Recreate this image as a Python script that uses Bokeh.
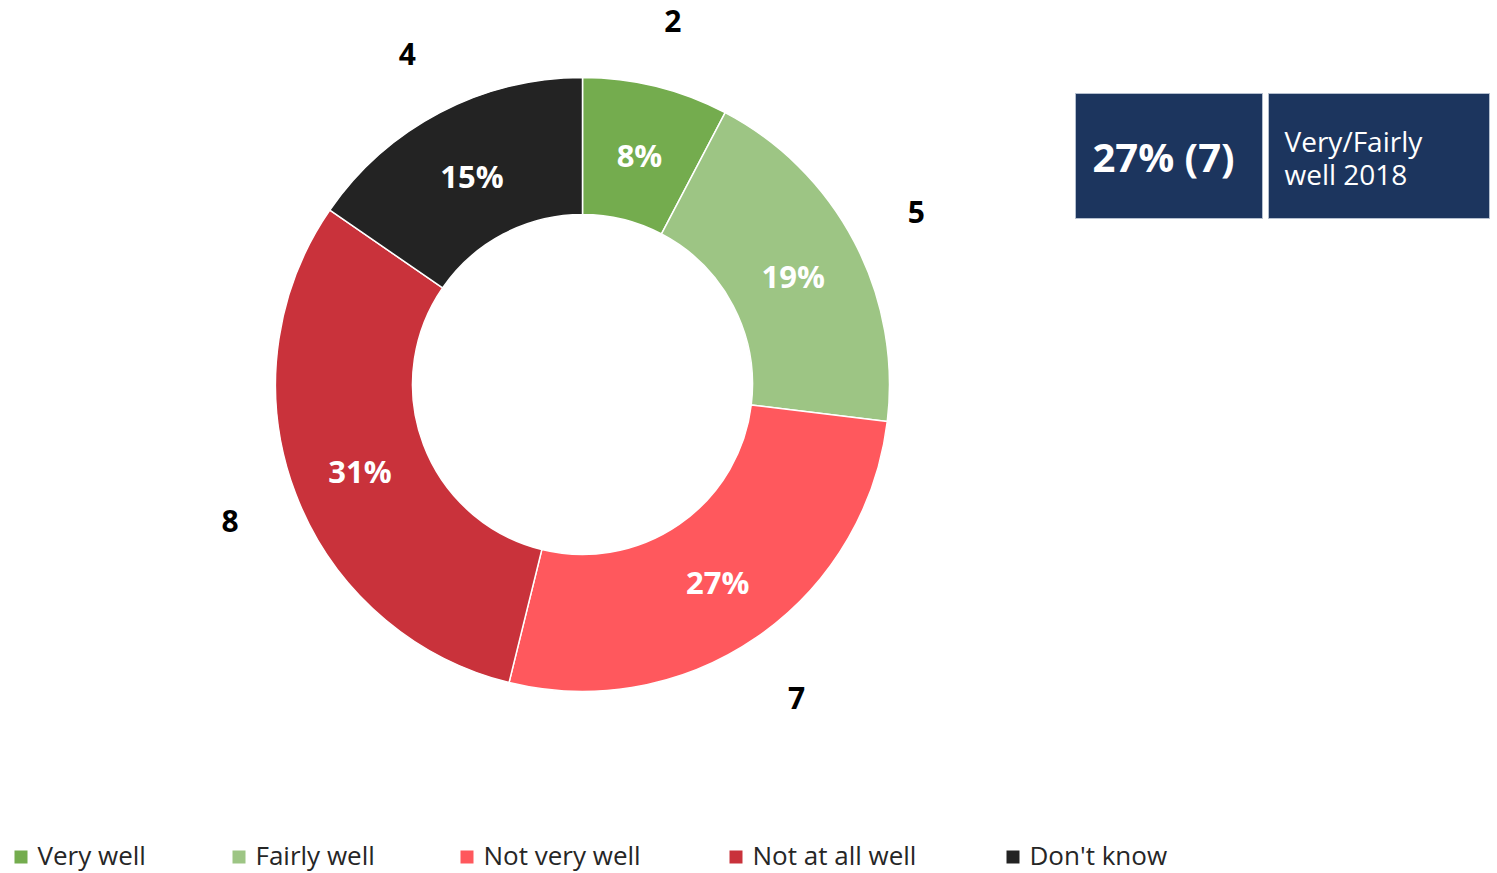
import numpy as np
from bokeh.plotting import figure
from bokeh.models import ColumnDataSource
from bokeh.core.properties import value
from bokeh.embed import file_html
from bokeh.resources import INLINE

# ---- data ----
categories = ["Very well", "Fairly well", "Not very well", "Not at all well", "Don't know"]
counts = [2, 5, 7, 8, 4]
colors = ["#74ac4e", "#9dc584", "#ff585d", "#c9323b", "#232323"]
summary_caption = "Very/Fairly\nwell 2018"
summary_cats = ["Very well", "Fairly well"]

FONT = "Open Sans"
W, H = 1497, 873

counts_arr = np.array(counts, dtype=float)
total = counts_arr.sum()
frac = counts_arr / total
cum = np.concatenate([[0], np.cumsum(frac)])
start = np.pi / 2 - 2 * np.pi * cum[:-1]
end = np.pi / 2 - 2 * np.pi * cum[1:]
mid = (start + end) / 2
pct = [f"{int(round(f * 100))}%" for f in frac]

cx, cy = 582, H - 384
r_in, r_out = 170, 307
r_lab, r_cnt = 238, 377

src = ColumnDataSource(dict(
    cat=categories, count=[str(c) for c in counts], color=colors,
    start=start, end=end, pct=pct,
    px=cx + r_lab * np.cos(mid), py=cy + r_lab * np.sin(mid) - 2,
    qx=cx + r_cnt * np.cos(mid), qy=cy + r_cnt * np.sin(mid) - 3,
))

p = figure(width=W, height=H, x_range=(0, W), y_range=(0, H),
           output_backend="svg", toolbar_location=None, min_border=0,
           outline_line_color=None)
p.axis.visible = False
p.grid.visible = False

p.annular_wedge(x=cx, y=cy, inner_radius=r_in, outer_radius=r_out,
                start_angle="start", end_angle="end", direction="clock",
                fill_color="color", line_color="white", line_width=1.5,
                source=src)

p.text(x="px", y="py", text="pct", source=src, text_color="white",
       text_font=value(FONT), text_font_style="bold", text_font_size="31px",
       text_align="center", text_baseline="middle")
p.text(x="qx", y="qy", text="count", source=src, text_color="black",
       text_font=value(FONT), text_font_style="bold", text_font_size="30px",
       text_align="center", text_baseline="middle")

# summary box
sel = [categories.index(c) for c in summary_cats]
s_count = int(sum(counts[i] for i in sel))
s_pct = int(round(100 * s_count / total))
box_src = ColumnDataSource(dict(left=[1075, 1268], right=[1262, 1489],
                                top=[H - 93, H - 93], bottom=[H - 218, H - 218]))
p.quad(left="left", right="right", top="top", bottom="bottom", source=box_src,
       fill_color="#1c355e", line_color="#b4bfcf", line_width=1)
p.text(x=[1163], y=[H - 156], text=[f"{s_pct}% ({s_count})"], text_color="white",
       text_font=value(FONT), text_font_style="bold", text_font_size="40px",
       text_align="center", text_baseline="middle")
p.text(x=[1284], y=[H - 157], text=[summary_caption], text_color="white",
       text_font=value(FONT), text_font_size="28px",
       text_align="left", text_baseline="middle", text_line_height=0.89)

# legend (drawn manually to match spacing)
leg_x = np.array([14, 232, 460, 729, 1006], dtype=float)
p.rect(x=leg_x + 6.5, y=[H - 856.5] * len(categories), width=13, height=13,
       fill_color=colors, line_color=None)
p.text(x=leg_x + 23, y=[H - 854.5] * len(categories), text=categories,
       text_color="#262626", text_font=value(FONT), text_font_size="26px",
       text_align="left", text_baseline="middle")

open("out.html", "w").write(file_html(p, INLINE))
